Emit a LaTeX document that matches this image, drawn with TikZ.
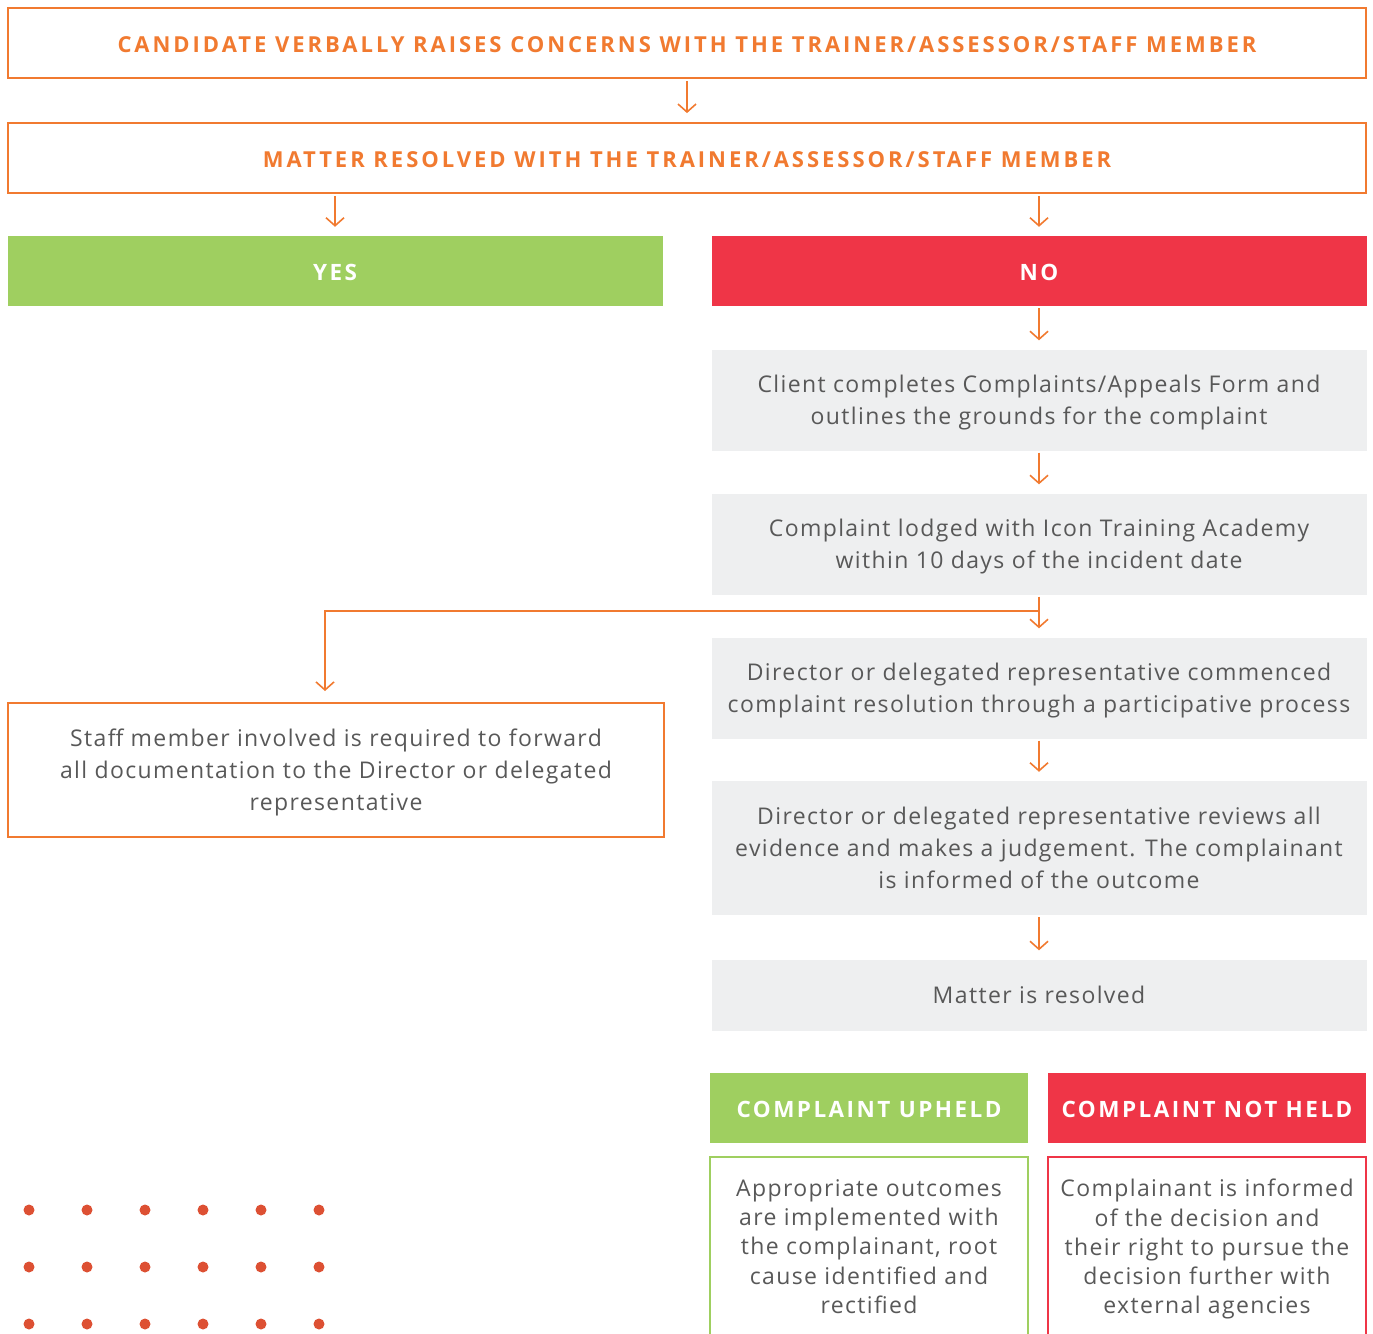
\documentclass[tikz,border=0pt]{standalone}
\usepackage{fontspec}
\setmainfont{Open Sans}
\newfontfamily\headfont[LetterSpace=13.5]{Open Sans}
\newfontfamily\tagfont[LetterSpace=11]{Open Sans}
\newfontfamily\bodyfont[LetterSpace=6]{Open Sans}
\usepackage{xcolor}
\usetikzlibrary{arrows.meta,positioning}

\definecolor{lineorange}{RGB}{241,122,48}
\definecolor{okgreen}{RGB}{159,207,96}
\definecolor{nored}{RGB}{239,53,71}
\definecolor{stepgray}{RGB}{238,239,240}
\definecolor{textgray}{RGB}{88,88,88}
\definecolor{dotred}{RGB}{221,80,51}

\begin{document}
\begin{tikzpicture}
  [
    x=1pt, y=-1pt,
    Frame/.style={rectangle, draw=lineorange, line width=1.8pt, fill=white, minimum width=1358pt, minimum height=70pt, text=lineorange, text height=20pt, font=\headfont\bfseries\fontsize{22}{26}\selectfont},
    Yes/.style={rectangle, fill=okgreen, text=white, minimum height=70pt, text height=20pt, font=\tagfont\bfseries\fontsize{22.5}{26}\selectfont},
    No/.style={rectangle, fill=nored, text=white, minimum height=70pt, text height=20pt, font=\tagfont\bfseries\fontsize{22.5}{26}\selectfont},
    Body/.style={align=center, text=textgray, text depth=-6pt, font=\bodyfont\fontsize{23}{32}\selectfont},
    StepBox/.style={Body, rectangle, fill=stepgray, minimum width=655pt},
    Note/.style={Body, rectangle, draw=lineorange, line width=1.8pt, minimum width=656pt, minimum height=134pt},
    Outcome/.style={Body, rectangle, line width=1.8pt, minimum width=318pt, minimum height=181pt, text depth=2pt, font=\bodyfont\fontsize{23}{29.3}\selectfont},
    Flow/.style={draw=lineorange, line width=1.6pt, -{Straight Barb[length=8pt, width=18pt, line width=1.6pt]}, shorten >=9pt, shorten <=2pt}
  ]
  \useasboundingbox (0,0) rectangle (1373,1333);
  \clip (0,0) rectangle (1373,1333);

  % Nodes
  \node[Frame] (raise) at(687, 43) {CANDIDATE VERBALLY RAISES CONCERNS WITH THE TRAINER/ASSESSOR/STAFF MEMBER};

  \node[Frame] (resolved) at(687, 158) {MATTER RESOLVED WITH THE TRAINER/ASSESSOR/STAFF MEMBER};

  \node[Yes, minimum width=655pt] (yes) at(335, 271) {YES};

  \node[No, minimum width=655pt] (no) at(1039, 271) {NO};

  \node[StepBox, minimum height=101pt, text depth=-9pt] (form) at(1039, 400) {Client completes Complaints/Appeals Form and\\outlines the grounds for the complaint};

  \node[StepBox, minimum height=101pt, text depth=-8pt] (lodged) at(1039, 544) {Complaint lodged with Icon Training Academy\\within 10 days of the incident date};

  \node[StepBox, minimum height=101pt] (director) at(1039, 688) {Director or delegated representative commenced\\complaint resolution through a participative process};

  \node[StepBox, minimum height=134pt] (review) at(1039, 848) {Director or delegated representative reviews all\\evidence and makes a judgement. The complainant\\is informed of the outcome};

  \node[StepBox, minimum height=71pt, text depth=-10pt] (done) at(1039, 995) {Matter is resolved};

  \node[Note] (staff) at(336, 770) {Staff member involved is required to forward\\all documentation to the Director or delegated\\representative};

  \node[Yes, minimum width=318pt] (upheld) at(869, 1108) {COMPLAINT UPHELD};

  \node[No, minimum width=318pt] (notheld) at(1207, 1108) {COMPLAINT NOT HELD};

  \node[Outcome, draw=okgreen] (fixed) at(869, 1247.5) {Appropriate outcomes\\are implemented with\\the complainant, root\\cause identified and\\rectified};

  \node[Outcome, draw=nored] (external) at(1207, 1247.5) {Complainant is informed\\of the decision and\\their right to pursue the\\decision further with\\external agencies};

  % Dots
  \foreach \col in {0,...,5}
    \foreach \row in {0,...,2}
      \fill[dotred] (29+58*\col, 1210+57*\row) circle (5.5pt);

  % Lines
  \coordinate (split) at (1039, 611);
  \coordinate (drop) at (325, 703);
  \path [Flow] (raise) -- (resolved);
  \path [Flow] (resolved.south -| yes.north) -- (yes.north);
  \path [Flow] (resolved.south -| no.north) -- (no.north);
  \path [Flow] (no) -- (form);
  \path [Flow] (form) -- (lodged);
  \path [Flow] (lodged) -- (director);
  \path [Flow] (director) -- (review);
  \path [Flow] (review) -- (done);
  \path [Flow, shorten <=0pt, shorten >=12pt] (split) -| (drop);

\end{tikzpicture}
\end{document}
